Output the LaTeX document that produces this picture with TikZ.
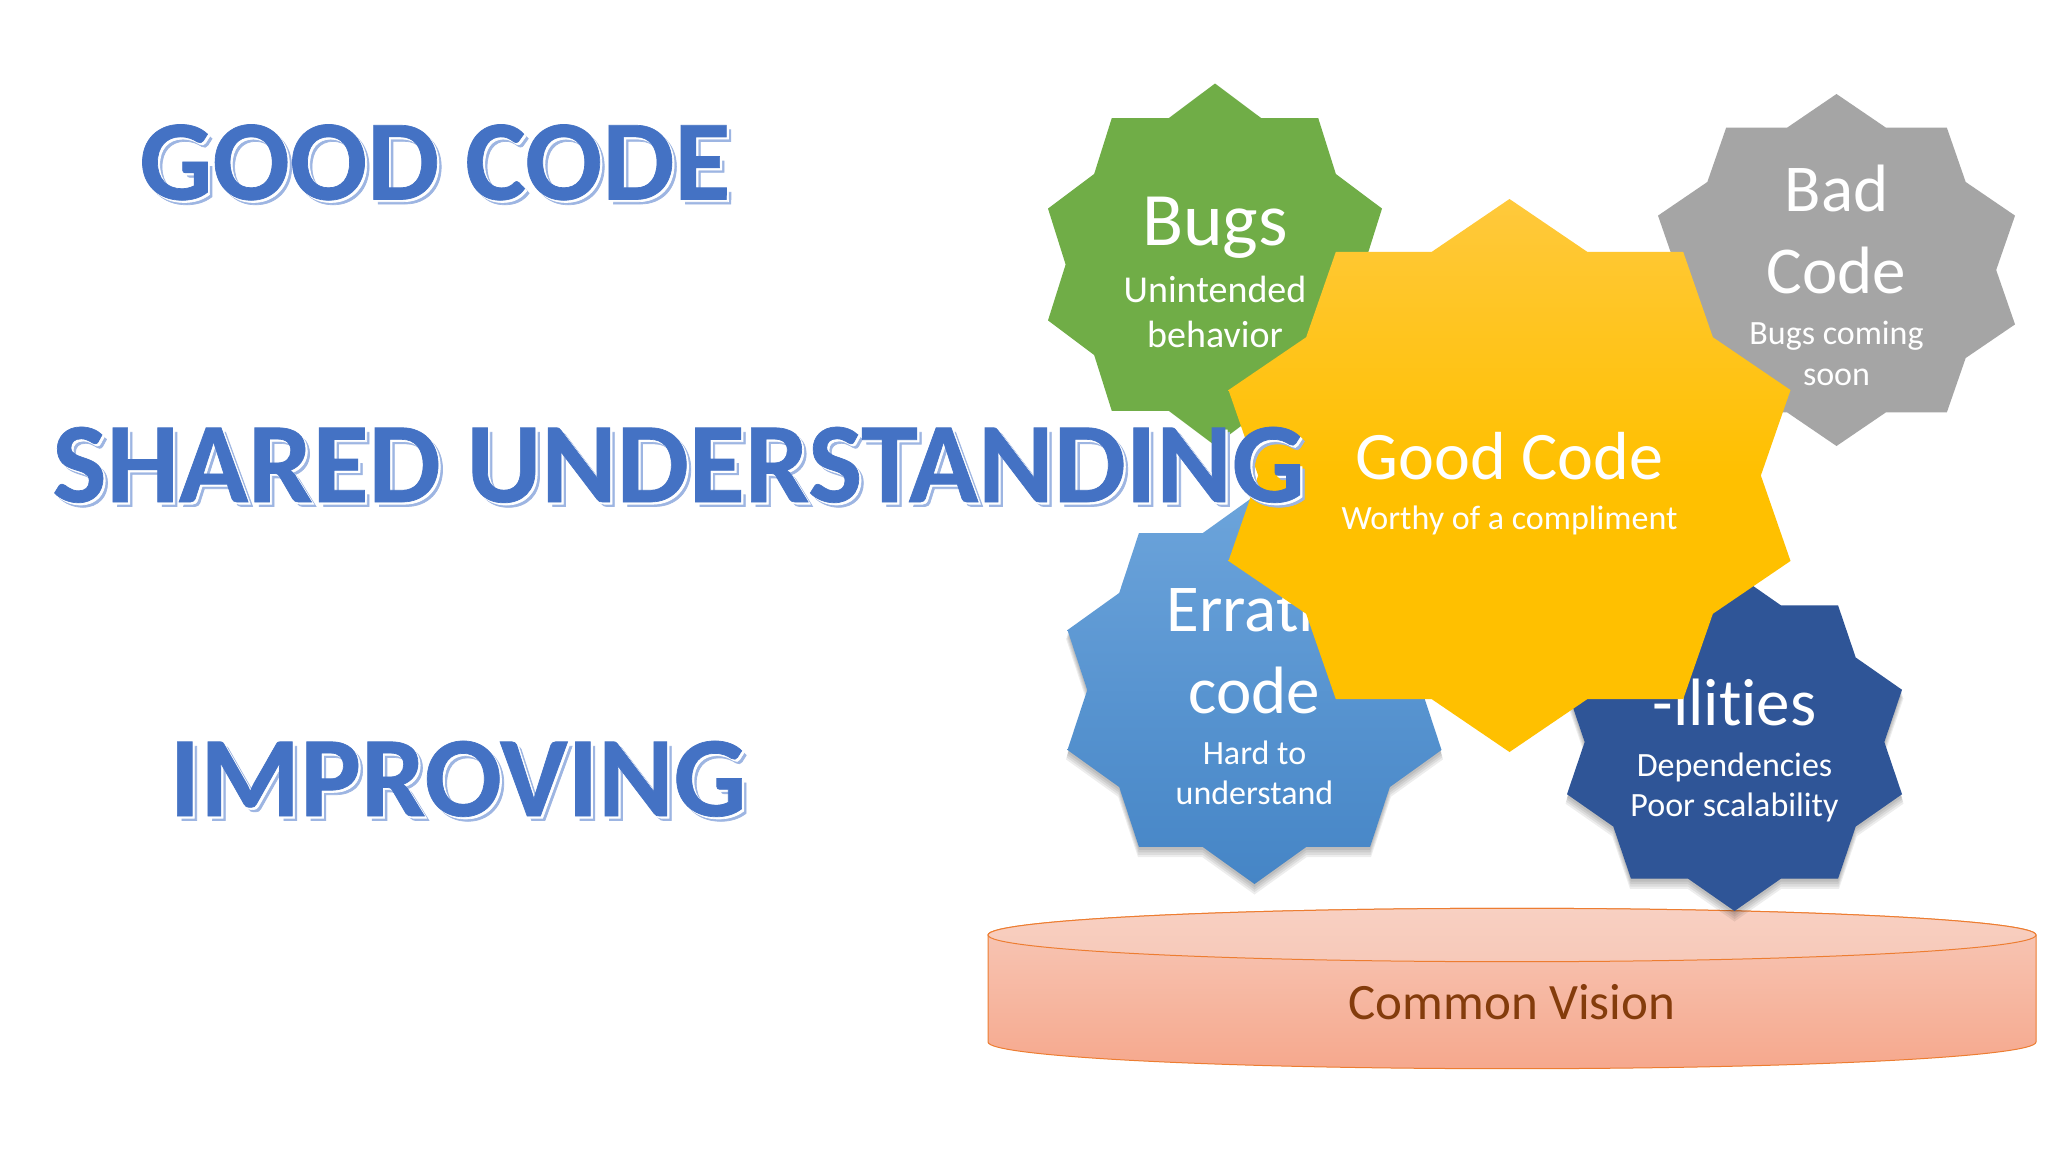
\documentclass[tikz,border=0pt]{standalone}
\usepackage{fontspec}
\setmainfont[Ligatures=NoCommon]{Carlito}
\newfontfamily\titlefont[FakeBold=0.6,Ligatures=NoCommon]{Carlito Bold}
\definecolor{bugsgreen}{HTML}{70AD47}
\definecolor{badgray}{HTML}{A5A5A5}
\definecolor{goldtop}{HTML}{FFC93C}
\definecolor{goldbot}{HTML}{FFC000}
\definecolor{errtop}{HTML}{6CA4DB}
\definecolor{errbot}{HTML}{4585C6}
\definecolor{ilblue}{HTML}{2F5597}
\definecolor{cyltop}{HTML}{F8D0C2}
\definecolor{cylmid}{HTML}{F7C9B9}
\definecolor{cylbot}{HTML}{F6A88D}
\definecolor{cylline}{HTML}{ED7D31}
\definecolor{cyltext}{HTML}{843C0C}
\definecolor{titleblue}{HTML}{4472C4}
\definecolor{titleshade}{HTML}{9DB5E2}
% ten-pointed star: centre x, centre y, half width, half height, style
\newcommand{\tenstar}[5]{%
  \path[#5] plot[samples at={0,...,19},variable=\i]
    ({#1+(#3)/0.951*(1-0.1493*mod(\i,2))*cos(90-18*\i)},
     {#2-(#4)*(1-0.1493*mod(\i,2))*sin(90-18*\i)}) -- cycle;}
% soft shadow under a star
\newcommand{\starshadow}[4]{%
  \foreach \d/\g in {2/-1,4/0,6/0.5,8/1,10/1.5}{%
    \tenstar{#1}{#2+\d-1}{#3+\g}{#4+\g}{fill=black,fill opacity=0.07}}}
% layered WordArt title text
\newcommand{\wordart}[1]{%
  \rlap{\raisebox{-4.5pt}{\hspace{4.5pt}\textcolor{titleshade}{#1}}}%
  \rlap{\raisebox{-2.2pt}{\hspace{2.2pt}\textcolor{white}{#1}}}%
  \textcolor{titleblue}{#1}}
\tikzset{
  bigtext/.style={text=white,inner sep=0pt,anchor=base,align=center,font=\fontsize{66}{82}\selectfont},
  subtext/.style={text=white,inner sep=0pt,anchor=base,align=center,font=\fontsize{34}{40}\selectfont},
  wordtitle/.style={inner sep=0pt,anchor=base,font=\fontsize{114.5}{114.5}\titlefont},
}
\begin{document}
\begin{tikzpicture}[x=1pt,y=-1pt]
\useasboundingbox (0,0) rectangle (2048,1152);
\fill[white] (0,0) rectangle (2048,1152);

% common vision cylinder
\path[draw=cylline,line width=1pt,top color=cylmid,bottom color=cylbot]
  (988,935) -- (988,1042) arc[start angle=180,end angle=360,x radius=524pt,y radius=26.7pt]
  -- (2036,935) arc[start angle=0,end angle=180,x radius=524pt,y radius=26.7pt] -- cycle;
\path[draw=cylline,line width=1pt,top color=cyltop,bottom color=cylmid]
  (1512,935) ellipse[x radius=524pt,y radius=26.7pt];
\node[inner sep=0pt,anchor=base,text=cyltext,font=\fontsize{51}{60}\selectfont] (vision) at (1512,1019.5) {Common Vision};

% Bugs
\tenstar{1215}{264.5}{167}{181}{fill=bugsgreen}
\node[bigtext,font=\fontsize{75.5}{82}\selectfont] (bugs) at (1215,245) {Bugs};
\node[subtext,font=\fontsize{38}{45}\selectfont] (bugssub) at (1215,347) {Unintended\\behavior};

% Bad Code
\tenstar{1836.5}{270}{178.5}{176}{fill=badgray}
\node[bigtext,font=\fontsize{67}{82}\selectfont] (bad) at (1836.5,293) {Bad\\Code};
\node[subtext,font=\fontsize{34}{41}\selectfont] (badsub) at (1836.5,385) {Bugs coming\\soon};

% Erratic code
\starshadow{1254.5}{690}{187}{194}
\tenstar{1254.5}{690}{187}{194}{top color=errtop,bottom color=errbot}
\node[bigtext,font=\fontsize{67}{82}\selectfont] (erratic) at (1254.5,713.5) {Erratic\\code};
\node[subtext] (erraticsub) at (1254.5,804) {Hard to\\understand};

% -ilities
\starshadow{1734.5}{742}{167.5}{169}
\tenstar{1734.5}{742}{167.5}{169}{fill=ilblue}
\node[bigtext,font=\fontsize{67}{82}\selectfont] (ilities) at (1734.5,725.5) {-ilities};
\node[subtext,font=\fontsize{34}{40}\selectfont] (ilitiessub) at (1734.5,816) {Dependencies\\Poor scalability};

% Good Code
\tenstar{1509.5}{475.5}{281}{276.5}{top color=goldtop,bottom color=goldbot,middle color=goldbot}
\node[bigtext,font=\fontsize{68}{82}\selectfont] (good) at (1509.5,479) {Good Code};
\node[subtext] (goodsub) at (1509.5,529) {Worthy of a compliment};

% titles
\node[wordtitle] (t1) at (435,199.5) {\wordart{GOOD CODE}};
\node[wordtitle] (t2) at (678.5,502) {\wordart{SHARED UNDERSTANDING}};
\node[wordtitle] (t3) at (458,816) {\wordart{IMPROVING}};
\end{tikzpicture}
\end{document}
